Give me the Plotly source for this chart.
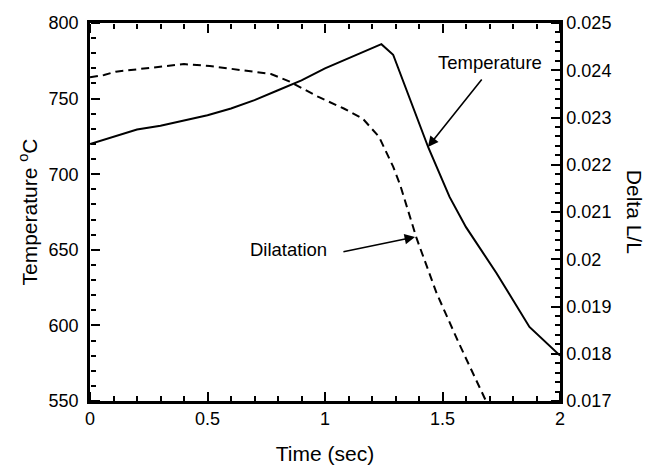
import plotly.graph_objects as go

temp_time = [0, 0.1, 0.2, 0.3, 0.4, 0.5, 0.6, 0.7, 0.8, 0.9, 1.0, 1.1, 1.2, 1.24, 1.29,
             1.44, 1.53, 1.6, 1.73, 1.87, 2.0]
temp_vals = [720, 725, 729.5, 732, 735.5, 739, 743.5, 749, 755.5, 762, 770, 776.5, 783, 786, 779,
             717.5, 685, 665, 634.5, 599, 580]

dil_time = [0, 0.06, 0.11, 0.24, 0.4, 0.51, 0.7, 0.77, 0.85, 0.97, 1.08, 1.16, 1.23, 1.29,
            1.32, 1.39, 1.475, 1.57, 1.685]
dil_vals = [0.02385, 0.0239, 0.02397, 0.02404, 0.02413, 0.02409, 0.02397, 0.02392, 0.02376,
            0.02344, 0.02319, 0.02298, 0.02259, 0.02196, 0.02157, 0.02044, 0.01928, 0.01822, 0.0170]

x_range = [0, 2]
y_range = [550, 800]
y2_range = [0.017, 0.025]

FONT = "Liberation Sans, Arial, sans-serif"

fig = go.Figure()
fig.add_trace(go.Scatter(x=temp_time, y=temp_vals, mode="lines", xaxis="x", yaxis="y",
                         line=dict(color="black", width=2), showlegend=False))
fig.add_trace(go.Scatter(x=dil_time, y=dil_vals, mode="lines", xaxis="x", yaxis="y2",
                         line=dict(color="black", width=2, dash="8px,5px"), showlegend=False))
# empty traces so the tick-only axes exist
for xa, ya in [("x3", "y"), ("x4", "y"), ("x", "y3"), ("x", "y4")]:
    fig.add_trace(go.Scatter(x=[], y=[], xaxis=xa, yaxis=ya, mode="lines",
                             showlegend=False, hoverinfo="skip"))

base = dict(showgrid=False, zeroline=False, automargin=False)
lbl = dict(ticks="", showline=True, linewidth=2.5, linecolor="black", tickfont=dict(size=18))


def tick_axis(rng, major, minor, side, pos, overlay):
    return dict(range=rng, dtick=major, ticks="outside", ticklen=9, tickwidth=2,
                tickcolor="black", showticklabels=False, showline=False,
                minor=dict(ticks="outside", dtick=minor, ticklen=5, tickwidth=1.5,
                           tickcolor="black"),
                overlaying=overlay, anchor="free", position=pos, side=side, **base)


fig.update_layout(
    width=647, height=466,
    margin=dict(l=90, r=87, t=23, b=65),
    paper_bgcolor="white", plot_bgcolor="white",
    font=dict(family=FONT, color="black", size=18),
    xaxis=dict(range=x_range, dtick=0.5, domain=[0, 1], anchor="y", mirror=True,
               title=dict(text="Time (sec)", font=dict(size=21), standoff=18),
               **lbl, **base),
    yaxis=dict(range=y_range, dtick=50, domain=[0, 1], anchor="x", ticksuffix=" ",
               title=dict(text="Temperature <sup>o</sup>C", font=dict(size=21), standoff=6),
               **lbl, **base),
    yaxis2=dict(range=y2_range, dtick=0.001, overlaying="y", side="right", anchor="x",
                **lbl, **base),
    xaxis3=tick_axis(x_range, 0.5, 0.1, "top", 0, "x"),
    xaxis4=tick_axis(x_range, 0.5, 0.1, "bottom", 1, "x"),
    yaxis3=tick_axis(y_range, 50, 10, "right", 0, "y"),
    yaxis4=tick_axis(y2_range, 0.001, 0.0002, "left", 1, "y"),
)

fig.add_annotation(text="Delta L/L", xref="paper", yref="paper", x=1.16, y=0.5,
                   textangle=90, showarrow=False, font=dict(size=21),
                   xanchor="center", yanchor="middle")

fig.add_annotation(text="Temperature", x=1.702, y=774.2, xref="x", yref="y",
                   showarrow=False, font=dict(size=18.5))
fig.add_annotation(text="", x=1.438, y=718, ax=1.672, ay=763.6,
                   xref="x", yref="y", axref="x", ayref="y",
                   showarrow=True, arrowhead=2, arrowsize=1.3, arrowwidth=1.6, arrowcolor="black")

fig.add_annotation(text="Dilatation", x=0.843, y=650, xref="x", yref="y",
                   showarrow=False, font=dict(size=18.5))
fig.add_annotation(text="", x=1.383, y=658.5, ax=1.072, ay=648.5,
                   xref="x", yref="y", axref="x", ayref="y",
                   showarrow=True, arrowhead=2, arrowsize=1.3, arrowwidth=1.6, arrowcolor="black")

fig.write_html("out.html")
